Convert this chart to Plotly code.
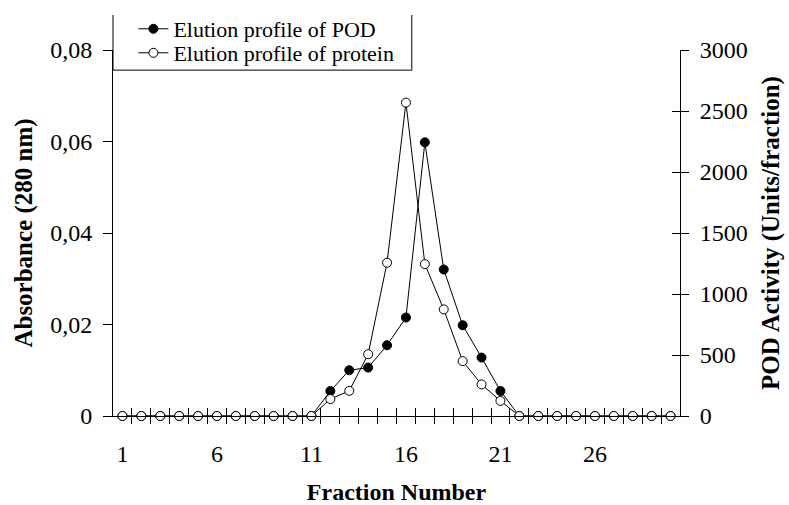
import plotly.graph_objects as go

fractions = list(range(1, 31))
pod_activity = [0]*11 + [205, 375, 397, 580, 807, 2243, 1201, 744, 479, 205, 0] + [0]*8
protein_abs = [0]*11 + [0.0037, 0.0055, 0.0135, 0.0335, 0.0685, 0.0332, 0.0233, 0.0120, 0.0069, 0.0033, 0] + [0]*8

x_label_vals = [1, 6, 11, 16, 21, 26]
x_minor_vals = [i + 0.5 for i in range(1, 30)]
left_vals = [0, 0.02, 0.04, 0.06, 0.08]
left_text = ["0", "0,02", "0,04", "0,06", "0,08"]
right_vals = [0, 500, 1000, 1500, 2000, 2500, 3000]

FONT = "Liberation Serif"
TICKF = dict(family=FONT, size=24, color="black")
TITLEF = dict(family=FONT, size=24, color="black")
LEGF = dict(family=FONT, size=22, color="black")

fig = go.Figure()
fig.add_trace(go.Scatter(
    x=fractions, y=pod_activity, name="Elution profile of POD",
    mode="lines+markers", xaxis="x", yaxis="y", legend="legend",
    line=dict(color="black", width=1),
    marker=dict(symbol="circle", size=9, color="black", line=dict(color="black", width=1)),
    cliponaxis=False))
fig.add_trace(go.Scatter(
    x=fractions, y=protein_abs, name="Elution profile of protein",
    mode="lines+markers", xaxis="x", yaxis="y2", legend="legend2",
    line=dict(color="black", width=1),
    marker=dict(symbol="circle", size=9, color="white", line=dict(color="black", width=1)),
    cliponaxis=False))
# empty helper traces so the tick-only overlay axes get drawn
fig.add_trace(go.Scatter(x=[None], y=[None], xaxis="x2", yaxis="y3",
                         showlegend=False, hoverinfo="skip"))
fig.add_trace(go.Scatter(x=[None], y=[None], xaxis="x3", yaxis="y3",
                         showlegend=False, hoverinfo="skip"))

xr = [0.5, 30.5]
fig.update_layout(
    width=789, height=505,
    margin=dict(l=113, r=109, t=50, b=89, autoexpand=False),
    paper_bgcolor="white", plot_bgcolor="white",
    font=dict(family=FONT, color="black"),
    showlegend=True,
    legend=dict(x=0.036, y=1.0574, xanchor="left", yanchor="middle",
                bgcolor="rgba(0,0,0,0)", borderwidth=0, font=LEGF,
                tracegroupgap=0, itemwidth=30),
    legend2=dict(x=0.036, y=0.9918, xanchor="left", yanchor="middle",
                 bgcolor="rgba(0,0,0,0)", borderwidth=0, font=LEGF,
                 tracegroupgap=0, itemwidth=30),
    shapes=[dict(type="path", xref="paper", yref="paper",
                 path="M 0,1.0956 L 0,0.945 L 0.527,0.945 L 0.527,1.0956",
                 line=dict(color="black", width=1))],
    xaxis=dict(range=xr, tickvals=x_label_vals, ticks="outside", ticklen=8,
               tickcolor="rgba(0,0,0,0)", ticklabelstandoff=8, automargin=False,
               showline=True, linecolor="black", linewidth=1, showgrid=False,
               zeroline=False, tickfont=TICKF, anchor="y",
               title=dict(text="<b>Fraction Number</b>", standoff=17, font=TITLEF)),
    xaxis2=dict(range=xr, overlaying="x", anchor="y", tickvals=x_minor_vals,
                ticks="outside", ticklen=7, tickcolor="black", showticklabels=False,
                showline=False, showgrid=False, zeroline=False, automargin=False),
    xaxis3=dict(range=xr, overlaying="x", anchor="y", tickvals=x_minor_vals,
                ticks="inside", ticklen=8, tickcolor="black", showticklabels=False,
                showline=False, showgrid=False, zeroline=False, automargin=False),
    yaxis=dict(range=[0, 3000], tickvals=right_vals, side="right", anchor="x",
               ticks="outside", ticklen=8, tickcolor="black", ticklabelstandoff=6,
               showline=True, linecolor="black", linewidth=1, showgrid=False,
               zeroline=False, tickfont=TICKF, automargin=False,
               title=dict(text="<b>POD Activity (Units/fraction)</b>", standoff=14,
                          font=dict(family=FONT, size=25, color="black"))),
    yaxis3=dict(range=[0, 3000], tickvals=right_vals, side="right", anchor="x",
                overlaying="y", ticks="inside", ticklen=8, tickcolor="black",
                showticklabels=False, showline=False, showgrid=False, zeroline=False,
                automargin=False),
    yaxis2=dict(range=[0, 0.08], tickvals=left_vals, ticktext=left_text, side="left",
                anchor="x", overlaying="y", ticks="outside", ticklen=9, tickcolor="black",
                ticklabelstandoff=6, showline=True, linecolor="black", linewidth=1,
                showgrid=False, zeroline=False, tickfont=TICKF, automargin=False,
                title=dict(text="<b>Absorbance (280 nm)</b>", standoff=10,
                           font=dict(family=FONT, size=25, color="black"))),
)
fig.write_html("out.html")
